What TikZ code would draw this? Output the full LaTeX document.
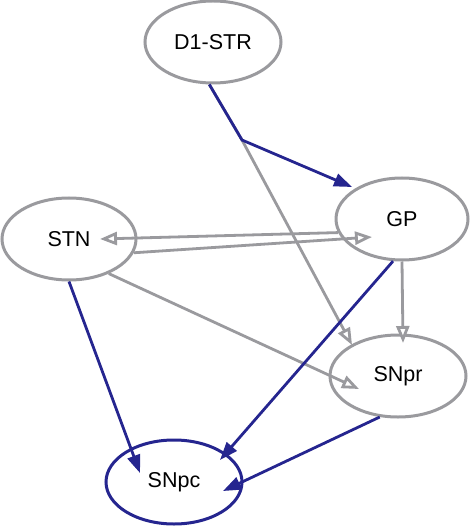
\documentclass[tikz,border=0pt]{standalone}
\usepackage{fontspec}
\setmainfont{Liberation Sans}
\usetikzlibrary{shapes.geometric, arrows.meta, calc}
\definecolor{bgGray}{HTML}{9A9A9E}
\definecolor{bgBlue}{HTML}{25258F}

\begin{document}
\begin{tikzpicture}[
  x=1pt, y=-1pt,
  font=\fontsize{21.5}{25}\selectfont,
  nucleus/.style={ellipse, draw=bgGray, line width=3pt, inner sep=0pt,
                  minimum width=136pt, minimum height=82pt},
  excit/.style={-{Triangle[open, length=17pt, width=13pt, fill=white]}, draw=bgGray, line width=2.8pt},
  inhib/.style={-{Triangle[length=18pt, width=13pt]}, draw=bgBlue, line width=2.8pt},
]
\useasboundingbox (0,0) rectangle (473,526);

% ---- nuclei ----
\node[nucleus] (d1) at (213,42) {D1-STR};
\node[nucleus, minimum width=132pt] (gp) at (402,219) {GP};
\node[nucleus, minimum width=134pt] (stn) at (69,239) {STN};
\node[nucleus] (snpr) at (398,376) {SNpr};
\node[nucleus, draw=bgBlue, minimum height=84pt] (snpc) at (174,482) {SNpc};

\coordinate (split) at (242,140);

% ---- gray (excitatory) connections ----
\draw[excit] (d1.265) -- (split) -- ($(snpr)+(-46,-31)$);
\draw[excit] (gp.192) -- ($(stn)+(31,0)$);
\draw[excit] (stn.-12) -- ($(gp)+(-30,18)$);
\draw[excit] (stn.-41) -- ($(snpr)+(-39,13)$);
\draw[excit] (gp.south) -- ($(snpr)+(5,-33)$);

% ---- blue (inhibitory) connections ----
\draw[inhib] (d1.265) -- (split) -- ($(gp)+(-50,-32)$);
\draw[inhib] (stn.south) -- ($(snpc)+(-34,-9)$);
\draw[inhib] (gp.258) -- ($(snpc)+(46,-22)$);
\draw[inhib] (snpr.246) -- ($(snpc)+(49,9)$);
\end{tikzpicture}
\end{document}
